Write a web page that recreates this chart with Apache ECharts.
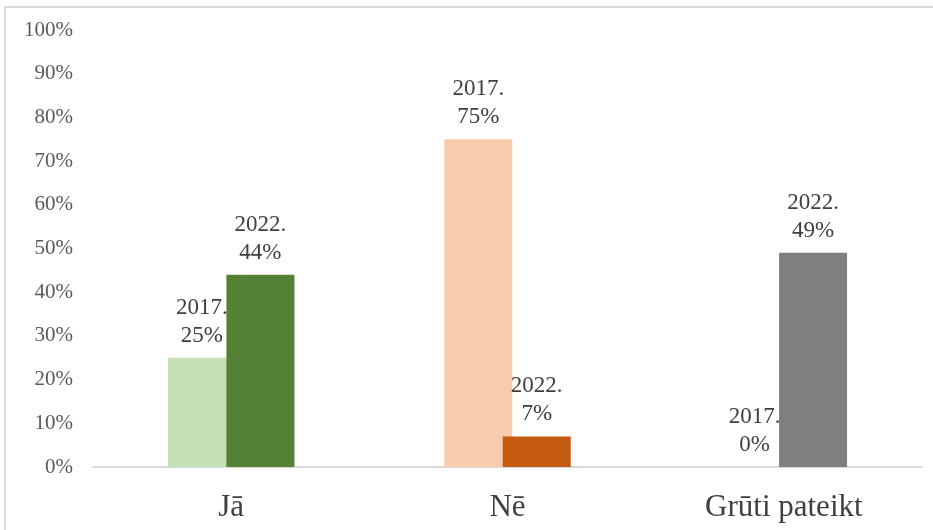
<!DOCTYPE html>
<html>
<head>
<meta charset="utf-8">
<script src="https://cdn.jsdelivr.net/npm/echarts@6/dist/echarts.min.js"></script>
<style>
  html, body { margin: 0; padding: 0; background: #fff; }
  #chart { width: 933px; height: 530px; }
</style>
</head>
<body>
<div id="chart"></div>
<script>
// data
let categories = ['Jā', 'Nē', 'Grūti pateikt'];
let values2017 = [25, 75, 0];
let values2022 = [44, 7, 49];
let yTicks = [0, 10, 20, 30, 40, 50, 60, 70, 80, 90, 100];

// colours per category
let colors2017 = ['#c5e0b4', '#f8cbad', '#a5a5a5'];
let colors2022 = ['#548235', '#c55a11', '#7f7f7f'];

let font = '"Liberation Serif", "Times New Roman", serif';

function makeData(values, colors) {
    return values.map((v, i) => ({ value: v, itemStyle: { color: colors[i] } }));
}

let labelStyle = {
    show: true,
    position: 'top',
    distance: 8,
    formatter: '{a}\n{c}%',
    fontFamily: font,
    fontSize: 23,
    lineHeight: 28,
    color: '#404040'
};

let ctx = document.getElementById('chart');
let chart = echarts.init(ctx);
let option = {
    animation: false,
    backgroundColor: '#fff',
    grid: { left: 93, right: 11, top: 30, bottom: 63 },
    graphic: [{
        type: 'rect',
        shape: { x: 5, y: 7, width: 960, height: 560 },
        style: { fill: 'none', stroke: '#d9d9d9', lineWidth: 2 },
        silent: true
    }],
    xAxis: {
        type: 'category',
        data: categories,
        axisLine: { lineStyle: { color: '#d9d9d9', width: 2 } },
        axisTick: { show: false },
        axisLabel: {
            fontFamily: font,
            fontSize: 31,
            color: '#404040',
            margin: 25
        }
    },
    yAxis: {
        type: 'value',
        min: yTicks[0],
        max: yTicks[yTicks.length - 1],
        interval: 10,
        splitLine: { show: false },
        axisLine: { show: false },
        axisTick: { show: false },
        axisLabel: {
            formatter: '{value}%',
            fontFamily: font,
            fontSize: 21,
            color: '#595959',
            margin: 20
        }
    },
    series: [{
        name: '2017.',
        type: 'bar',
        barWidth: 68,
        barGap: '-14%',
        data: makeData(values2017, colors2017),
        label: labelStyle
    }, {
        name: '2022.',
        type: 'bar',
        barWidth: 68,
        barGap: '-14%',
        data: makeData(values2022, colors2022),
        label: labelStyle
    }]
};
chart.setOption(option, true);

window.onresize = () => {
    chart.resize();
};
</script>
</body>
</html>
